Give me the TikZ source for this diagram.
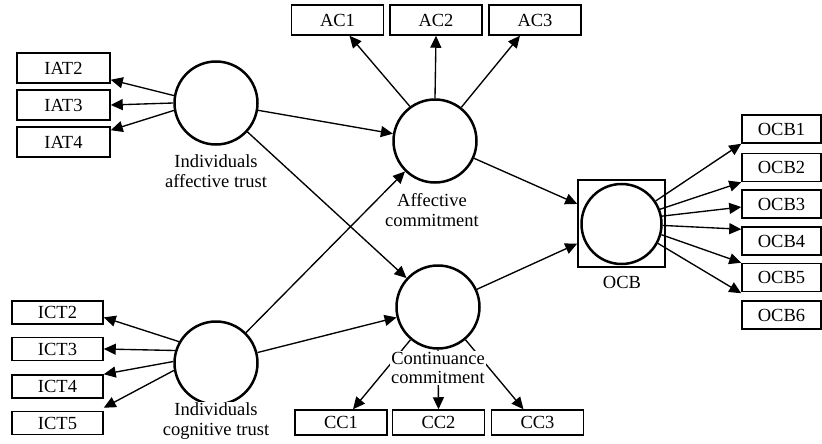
\documentclass[tikz,border=0pt]{standalone}
\usepackage{fontspec}
\setmainfont{Liberation Serif}
\usetikzlibrary{arrows.meta}

\begin{document}
\begin{tikzpicture}[x=1pt, y=-1pt]

  \tikzset{
    indicator/.style={
      draw,
      line width=1.5pt,
      inner sep=0pt,
      minimum width=92pt,
      minimum height=28pt,
      font=\fontsize{18.5}{20}\selectfont,
    },
    latent/.style={
      circle,
      draw,
      line width=2.5pt,
      inner sep=0pt,
      minimum size=83pt,
    },
    caption/.style={
      align=center,
      fill=white,
      inner sep=1pt,
      font=\fontsize{18.5}{19.5}\selectfont,
    },
    load/.style={
      line width=1.35pt,
      -{Triangle[length=12pt, width=11pt]},
    },
  }

  \useasboundingbox (0,0) rectangle (822,444);

  \node[latent] (iat) at (216,103) {};
  \node[latent] (ict) at (216,363) {};
  \node[latent] (ac) at (435,141) {};
  \node[latent] (cc) at (438,307) {};
  \node[draw, line width=1.5pt, minimum size=87pt, inner sep=0pt] (ocb) at (621.5,223.5) {};
  \node[latent, minimum size=80pt] (ocbc) at (621.5,224) {};

  \foreach \n/\y in {2/68,3/105,4/142} {
    \node[indicator, minimum width=93pt, minimum height=30pt] (iat\n) at (63.5,\y) {IAT\n};
  }
  \foreach \n/\y in {2/312.5,3/349,4/386.5,5/423} {
    \node[indicator, minimum width=91pt, minimum height=23pt] (ict\n) at (57.5,\y) {ICT\n};
  }
  \foreach \n/\x in {1/337.5,2/436,3/535} {
    \node[indicator, minimum height=30pt] (ac\n) at (\x,20) {AC\n};
  }
  \foreach \n/\x in {1/341,2/438.5,3/537.5} {
    \node[indicator, minimum height=25pt] (cc\n) at (\x,422.5) {CC\n};
  }
  \foreach \n/\y in {1/129,2/167.5,3/204,4/241,5/277.5,6/315} {
    \node[indicator, minimum width=79pt] (ocb\n) at (781.5,\y) {OCB\n};
  }

  \draw[load] (iat.170) -- (iat2.-14);
  \draw[load] (iat.180) -- (iat3.east);
  \draw[load] (iat.190) -- (iat4.14);

  \draw[load] (ict.150) -- (ict2.-6);
  \draw[load] (ict.163) -- (ict3.east);
  \draw[load] (ict.178) -- (ict4.north east);
  \draw[load] (ict.190) -- ([yshift=3pt]ict5.north east);

  \draw[load] (ac.126) -- ([xshift=12pt]ac1.south);
  \draw[load] (ac.90) -- (ac2.south);
  \draw[load] (ac.52) -- ([xshift=-15pt]ac3.south);

  \draw[load] (cc.-130) -- ([xshift=12pt]cc1.north);
  \draw[load] (cc.-90) -- (cc2.north);
  \draw[load] (cc.-50) -- ([xshift=-14pt]cc3.north);

  \draw[load] (ocbc.34) -- (ocb1.south west);
  \draw[load] (ocbc.21) -- (ocb2.south west);
  \draw[load] (ocbc.11) -- ([yshift=-3pt]ocb3.west);
  \draw[load] (ocbc.-2) -- ([yshift=-3pt]ocb4.north west);
  \draw[load] (ocbc.-15) -- (ocb5.north west);
  \draw[load] (ocbc.-28) -- ([yshift=7pt]ocb6.north west);

  \draw[load] (iat) -- (ac);
  \draw[load] (iat) -- (cc);
  \draw[load] (ict) -- (ac);
  \draw[load] (ict) -- (cc);
  \draw[load] (ac) -- (ocb);
  \draw[load] (cc) -- (ocb);

  \node[caption] (iatlabel) at (216,171) {Individuals\\affective trust};
  \node[caption] (ictlabel) at (216,421) {Individuals\\cognitive trust};
  \node[caption] (aclabel) at (432,210) {Affective\\commitment};
  \node[caption] (cclabel) at (438,368) {Continuance\\commitment};
  \node[caption] (ocblabel) at (622,282) {OCB};

\end{tikzpicture}
\end{document}
